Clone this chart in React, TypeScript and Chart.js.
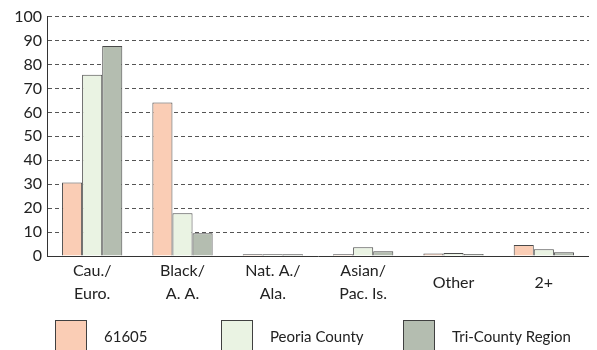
import React, { useEffect, useRef } from "react";
import { Chart, registerables } from "chart.js";

Chart.register(...registerables);

const categories: string[][] = [
  ["Cau./", "Euro."],
  ["Black/", "A. A."],
  ["Nat. A./", "Ala."],
  ["Asian/", "Pac. Is."],
  ["Other"],
  ["2+"],
];
const seriesNames = ["61605", "Peoria County", "Tri-County Region"];
const zip61605 = [30.7, 64.1, 0.7, 0.7, 1.0, 4.6];
const peoriaCounty = [75.7, 17.9, 0.7, 3.7, 1.3, 2.8];
const triCounty = [87.7, 9.5, 0.7, 2.0, 0.8, 1.6];
const yTicks = [0, 10, 20, 30, 40, 50, 60, 70, 80, 90, 100];

const fills = ["#FACDB5", "#EAF3E3", "#B4BDB0"];
const FONT = "Lato, 'Open Sans', sans-serif";

const legendPlugin = {
  id: "customLegend",
  afterDraw(chart: any) {
    const ctx = chart.ctx;
    const left = chart.chartArea.left;
    const cols = [8, 174, 356];
    ctx.save();
    chart.data.datasets.forEach((ds: any, i: number) => {
      const bx = left + cols[i];
      const by = 318;
      ctx.fillStyle = ds.backgroundColor;
      ctx.fillRect(bx, by, 32, 34);
      ctx.strokeStyle = "#404040";
      ctx.lineWidth = 1;
      ctx.strokeRect(bx + 0.5, by + 0.5, 31, 33);
      ctx.fillStyle = "#222";
      ctx.font = `15px ${FONT}`;
      ctx.textBaseline = "middle";
      ctx.textAlign = "left";
      ctx.fillText(ds.label, bx + 49, 335);
    });
    ctx.restore();
  },
};

export default function App() {
  const ref = useRef<HTMLCanvasElement | null>(null);
  useEffect(() => {
    if (!ref.current) return;
    const data = [zip61605, peoriaCounty, triCounty];
    const chart = new Chart(ref.current, {
      type: "bar",
      data: {
        labels: categories,
        datasets: seriesNames.map((name, i) => ({
          label: name,
          data: data[i],
          backgroundColor: fills[i],
          borderColor: "#4a4a4a",
          borderWidth: 1,
          categoryPercentage: 0.667,
          barPercentage: 1,
        })),
      },
      options: {
        animation: false,
        responsive: true,
        maintainAspectRatio: false,
        layout: { padding: { top: 2, right: 0, left: 0, bottom: 0 } },
        plugins: {
          legend: { display: false },
          tooltip: { enabled: false },
        },
        scales: {
          x: {
            grid: { display: false, drawTicks: false },
            border: { display: true, color: "#333", width: 1 },
            ticks: {
              color: "#222",
              font: { family: FONT, size: 16, lineHeight: 1.45 },
              crossAlign: "center",
              padding: 15,
              maxRotation: 0,
              autoSkip: false,
            },
            afterFit: (s: any) => {
              s.height = 94;
            },
          },
          y: {
            min: 0,
            max: 100,
            afterBuildTicks: (s: any) => {
              s.ticks = yTicks.map((v) => ({ value: v }));
            },
            grid: {
              color: "#555",
              drawTicks: false,
              lineWidth: 1,
            },
            border: { display: true, color: "#333", width: 1, dash: [4, 3] },
            ticks: {
              color: "#222",
              font: { family: FONT, size: 16 },
              padding: 5,
            },
            afterFit: (s: any) => {
              s.width = 39;
            },
          },
        },
      },
      plugins: [legendPlugin],
    } as any);
    return () => chart.destroy();
  }, []);
  return (
    <div style={{ position: "relative", width: 581, height: 348, marginTop: -6 }}>
      <canvas ref={ref} />
    </div>
  );
}
